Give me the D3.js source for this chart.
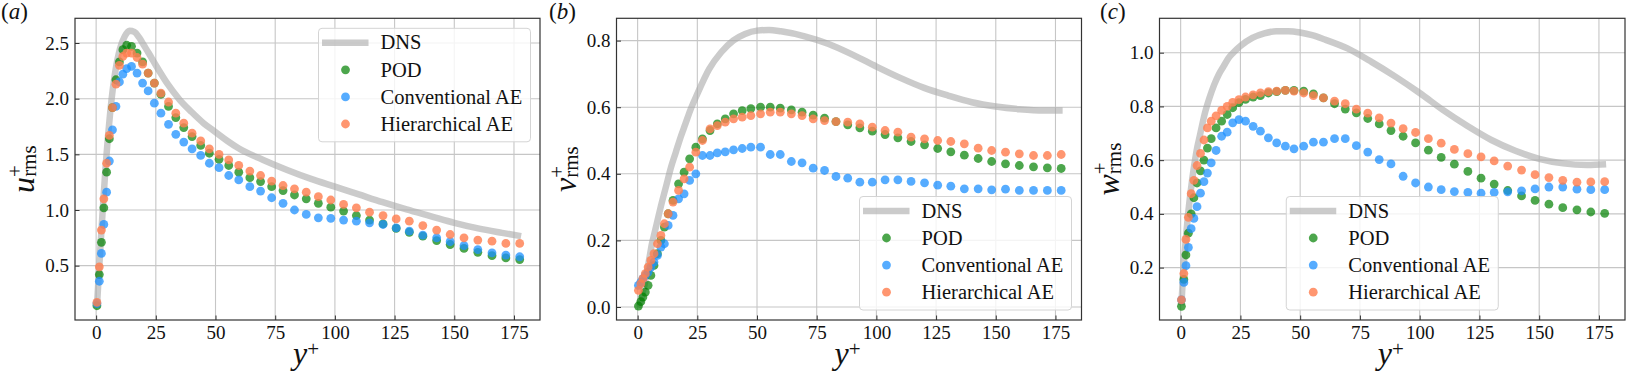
<!DOCTYPE html>
<html>
<head>
<meta charset="utf-8">
<script src="https://cdn.jsdelivr.net/npm/d3@7"></script>
<style>
  html, body { margin: 0; padding: 0; background: #fff; }
  svg { display: block; }
  text { font-family: "Liberation Serif", "Times New Roman", serif; fill: #111; }
</style>
</head>
<body>
<svg id="chart" width="1627" height="374"></svg>
<script>
// ---------------- data ----------------
const yPlus = [0.33,1.34,2.21,3.23,4.39,5.54,6.85,8.30,9.75,11.20,12.79,14.82,17.14,19.46,21.78,24.38,27.14,30.32,33.37,36.70,40.18,43.80,47.42,51.48,55.54,59.74,64.38,68.87,73.51,78.28,83.07,88.00,93.07,98.28,103.64,109.00,114.51,120.16,125.67,131.17,136.83,142.62,148.27,154.07,159.86,165.80,171.60,177.40];

const podU  = [0.14,0.42,0.71,1.02,1.34,1.64,1.92,2.17,2.33,2.44,2.48,2.47,2.41,2.33,2.23,2.14,2.04,1.93,1.83,1.74,1.66,1.58,1.51,1.455,1.40,1.34,1.29,1.255,1.21,1.175,1.135,1.10,1.06,1.025,0.99,0.95,0.91,0.875,0.835,0.80,0.765,0.725,0.69,0.655,0.62,0.59,0.57,0.555];
const convU = [0.16,0.36,0.61,0.87,1.16,1.44,1.72,1.93,2.15,2.22,2.27,2.29,2.23,2.14,2.07,1.96,1.87,1.77,1.68,1.61,1.55,1.49,1.42,1.38,1.31,1.27,1.21,1.17,1.11,1.06,1.00,0.96,0.93,0.925,0.91,0.90,0.885,0.87,0.84,0.81,0.775,0.75,0.715,0.68,0.645,0.615,0.595,0.58];
const hierU = [0.17,0.49,0.82,1.10,1.42,1.67,1.92,2.13,2.30,2.38,2.41,2.41,2.37,2.31,2.23,2.14,2.05,1.97,1.87,1.78,1.69,1.62,1.55,1.50,1.45,1.40,1.35,1.31,1.26,1.22,1.19,1.16,1.12,1.09,1.05,1.02,0.98,0.95,0.92,0.90,0.86,0.82,0.78,0.75,0.73,0.72,0.70,0.70];

const podV  = [0.003,0.016,0.03,0.045,0.065,0.095,0.125,0.16,0.20,0.24,0.28,0.32,0.37,0.405,0.445,0.48,0.505,0.53,0.55,0.565,0.58,0.59,0.596,0.60,0.60,0.597,0.592,0.585,0.576,0.567,0.557,0.547,0.538,0.528,0.518,0.508,0.497,0.487,0.476,0.466,0.456,0.446,0.437,0.43,0.425,0.421,0.418,0.416];
const convV = [0.065,0.075,0.085,0.095,0.105,0.12,0.135,0.155,0.18,0.19,0.245,0.275,0.325,0.34,0.38,0.40,0.455,0.455,0.463,0.466,0.472,0.476,0.48,0.48,0.458,0.458,0.437,0.433,0.417,0.41,0.392,0.387,0.375,0.375,0.382,0.382,0.377,0.373,0.366,0.363,0.355,0.355,0.352,0.354,0.35,0.35,0.35,0.35];
const hierV = [0.05,0.07,0.085,0.10,0.12,0.14,0.16,0.19,0.215,0.25,0.28,0.315,0.35,0.385,0.42,0.465,0.50,0.535,0.545,0.555,0.565,0.57,0.575,0.58,0.585,0.585,0.58,0.575,0.565,0.56,0.557,0.555,0.55,0.54,0.53,0.525,0.51,0.505,0.50,0.497,0.49,0.477,0.47,0.465,0.46,0.455,0.455,0.458];

const podW  = [0.056,0.156,0.247,0.328,0.40,0.46,0.515,0.56,0.60,0.645,0.68,0.72,0.745,0.77,0.795,0.814,0.826,0.835,0.84,0.85,0.855,0.86,0.86,0.857,0.847,0.832,0.81,0.79,0.776,0.755,0.735,0.71,0.689,0.664,0.637,0.61,0.585,0.558,0.533,0.511,0.487,0.467,0.45,0.436,0.423,0.415,0.407,0.402];
const convW = [0.08,0.145,0.207,0.275,0.345,0.383,0.427,0.477,0.52,0.552,0.59,0.636,0.689,0.704,0.739,0.751,0.745,0.726,0.708,0.683,0.664,0.652,0.642,0.652,0.667,0.667,0.68,0.68,0.654,0.63,0.602,0.586,0.54,0.515,0.50,0.49,0.483,0.48,0.477,0.48,0.482,0.486,0.493,0.50,0.50,0.492,0.49,0.49];
const hierW = [0.08,0.178,0.305,0.387,0.475,0.525,0.58,0.625,0.675,0.72,0.745,0.765,0.785,0.80,0.815,0.825,0.835,0.843,0.85,0.855,0.857,0.86,0.857,0.85,0.84,0.832,0.82,0.81,0.79,0.775,0.757,0.738,0.717,0.703,0.68,0.663,0.64,0.624,0.612,0.597,0.578,0.563,0.546,0.535,0.525,0.518,0.519,0.52];

const dnsYPlus = [0.3,1,2,3,4,5,6,7,8,10,12,14,16,18,20,22,25,30,35,40,45,50,55,60,70,80,90,100,110,120,130,140,150,160,170,178];
const dnsU = [0.12,0.38,0.74,1.08,1.40,1.67,1.90,2.09,2.24,2.45,2.56,2.61,2.60,2.55,2.48,2.41,2.30,2.13,1.99,1.88,1.78,1.70,1.62,1.55,1.45,1.36,1.28,1.21,1.14,1.07,1.005,0.945,0.885,0.835,0.795,0.765];
const dnsV = [0.0,0.01,0.04,0.07,0.11,0.15,0.19,0.22,0.25,0.31,0.365,0.42,0.465,0.51,0.55,0.59,0.64,0.715,0.765,0.80,0.82,0.83,0.832,0.828,0.813,0.79,0.758,0.722,0.688,0.658,0.635,0.615,0.602,0.594,0.59,0.59];
const dnsW = [0.06,0.17,0.29,0.39,0.47,0.54,0.60,0.65,0.69,0.77,0.83,0.88,0.92,0.95,0.98,1.00,1.025,1.055,1.072,1.08,1.08,1.075,1.065,1.05,1.015,0.965,0.91,0.85,0.785,0.727,0.675,0.635,0.605,0.588,0.582,0.585];

const seriesNames = ["DNS", "POD", "Conventional AE", "Hierarchical AE"];
const xTicks = [0, 25, 50, 75, 100, 125, 150, 175];
const yTicksU = [0.5, 1.0, 1.5, 2.0, 2.5];
const yTicksV = [0.0, 0.2, 0.4, 0.6, 0.8];
const yTicksW = [0.2, 0.4, 0.6, 0.8, 1.0];
const panelTags = ["a", "b", "c"];
const yLabelLetters = ["u", "v", "w"];

// ---------------- styles ----------------
const colors = { pod: "#008000", conv: "#1e90ff", hier: "#ff7f50" };
const opac   = { pod: 0.7, conv: 0.75, hier: 0.82 };

const svg = d3.select("#chart");
const TOP = 18.3, BOTTOM = 320;

const panels = [
  { left: 75,    right: 540,  yDomain: [0.012, 2.722], yTicks: yTicksU, dns: dnsU, pod: podU, conv: convU, hier: hierU, legend: "upper right", tagX: 1 },
  { left: 616.5, right: 1081.5, yDomain: [-0.039, 0.867], yTicks: yTicksV, dns: dnsV, pod: podV, conv: convV, hier: hierV, legend: "lower right", tagX: 549 },
  { left: 1159.5,right: 1625, yDomain: [0.005, 1.128], yTicks: yTicksW, dns: dnsW, pod: podW, conv: convW, hier: hierW, legend: "lower center", tagX: 1100 }
];

panels.forEach((p, i) => {
  const x = d3.scaleLinear().domain([-8.85, 185.9]).range([p.left, p.right]);
  const y = d3.scaleLinear().domain(p.yDomain).range([BOTTOM, TOP]);
  const g = svg.append("g");

  const clipId = "clip" + i;
  svg.append("clipPath").attr("id", clipId).append("rect")
    .attr("x", p.left).attr("y", TOP).attr("width", p.right - p.left).attr("height", BOTTOM - TOP);

  // grid
  const grid = g.append("g").attr("stroke", "#c6c6c6").attr("stroke-width", 1.1);
  xTicks.forEach(t => grid.append("line").attr("x1", x(t)).attr("x2", x(t)).attr("y1", TOP).attr("y2", BOTTOM));
  p.yTicks.forEach(t => grid.append("line").attr("x1", p.left).attr("x2", p.right).attr("y1", y(t)).attr("y2", y(t)));

  const plot = g.append("g").attr("clip-path", `url(#${clipId})`);

  // DNS line
  const line = d3.line().x((d, k) => x(dnsYPlus[k])).y(d => y(d)).curve(d3.curveMonotoneX);
  plot.append("path").attr("d", line(p.dns))
    .attr("fill", "none").attr("stroke", "#a8a8a8").attr("stroke-opacity", 0.6)
    .attr("stroke-width", 6.5);

  // scatter series
  [["pod", p.pod], ["conv", p.conv], ["hier", p.hier]].forEach(([key, vals]) => {
    plot.append("g").selectAll("circle").data(vals).join("circle")
      .attr("cx", (d, k) => x(yPlus[k])).attr("cy", d => y(d)).attr("r", 4.4)
      .attr("fill", colors[key]).attr("fill-opacity", opac[key]);
  });

  // axes
  const axB = d3.axisBottom(x).tickValues(xTicks).tickSize(-4.5).tickPadding(6).tickFormat(d3.format("d"));
  const axL = d3.axisLeft(y).tickValues(p.yTicks).tickSize(-4.5).tickPadding(6).tickFormat(d3.format(".1f"));
  const gB = g.append("g").attr("transform", `translate(0,${BOTTOM})`).call(axB);
  const gL = g.append("g").attr("transform", `translate(${p.left},0)`).call(axL);
  [gB, gL].forEach(a => {
    a.select(".domain").remove();
    a.selectAll("line").attr("stroke", "#333").attr("stroke-width", 1);
    a.selectAll("text").attr("font-size", 19).attr("font-family", "Liberation Serif, serif").attr("fill", "#111");
  });
  gB.selectAll("text").attr("y", 0).attr("dy", 19);

  // frame
  g.append("rect").attr("x", p.left).attr("y", TOP).attr("width", p.right - p.left).attr("height", BOTTOM - TOP)
    .attr("fill", "none").attr("stroke", "#333").attr("stroke-width", 1.2);

  // legend
  const LW = 212, LH = 113.5;
  let lx, ly;
  if (p.legend === "upper right") { lx = p.right - 9.5 - LW; ly = TOP + 10; }
  else if (p.legend === "lower right") { lx = p.right - 10 - LW; ly = BOTTOM - 10 - LH; }
  else { lx = (p.left + p.right) / 2 - LW / 2; ly = BOTTOM - 10 - LH; }
  const lg = g.append("g").attr("transform", `translate(${lx},${ly})`);
  lg.append("rect").attr("width", LW).attr("height", LH).attr("rx", 3.5)
    .attr("fill", "#fff").attr("fill-opacity", 0.8).attr("stroke", "#d4d4d4").attr("stroke-width", 1);
  const rows = [14.4, 41.5, 68.6, 95.7];
  lg.append("line").attr("x1", 3.5).attr("x2", 50).attr("y1", rows[0]).attr("y2", rows[0])
    .attr("stroke", "#a8a8a8").attr("stroke-opacity", 0.6).attr("stroke-width", 6.5);
  ["pod", "conv", "hier"].forEach((key, k) => {
    lg.append("circle").attr("cx", 27).attr("cy", rows[k + 1]).attr("r", 4.4)
      .attr("fill", colors[key]).attr("fill-opacity", opac[key]);
  });
  seriesNames.forEach((name, k) => {
    lg.append("text").attr("x", 62).attr("y", rows[k] + 6.8).attr("font-size", 20.5).text(name);
  });

  // x label  y^+
  const xl = g.append("text").attr("y", 364).attr("font-size", 32);
  xl.append("tspan").attr("font-style", "italic").text("y");
  xl.append("tspan").attr("font-size", 21).attr("dy", -8).text("+");
  const bb = xl.node().getBBox();
  xl.attr("x", (p.left + p.right) / 2 - bb.width / 2);

  // y label  letter^+_rms
  const yg = g.append("g").attr("transform", `translate(${p.left - 41},${(TOP + BOTTOM) / 2}) rotate(-90)`);
  const yl = yg.append("text").attr("y", 0).attr("font-size", 32);
  yl.append("tspan").attr("font-style", "italic").text(yLabelLetters[i]);
  yl.append("tspan").attr("font-size", 21).attr("dy", -12).text("+");
  yl.append("tspan").attr("font-size", 21).attr("dx", -11.8).attr("dy", 14).text("rms");
  const yb = yl.node().getBBox();
  yl.attr("x", -yb.width / 2);

  // panel tag
  const tg = svg.append("text").attr("x", p.tagX).attr("y", 18.5).attr("font-size", 23);
  tg.append("tspan").text("(");
  tg.append("tspan").attr("font-style", "italic").text(panelTags[i]);
  tg.append("tspan").text(")");
});
</script>
</body>
</html>
